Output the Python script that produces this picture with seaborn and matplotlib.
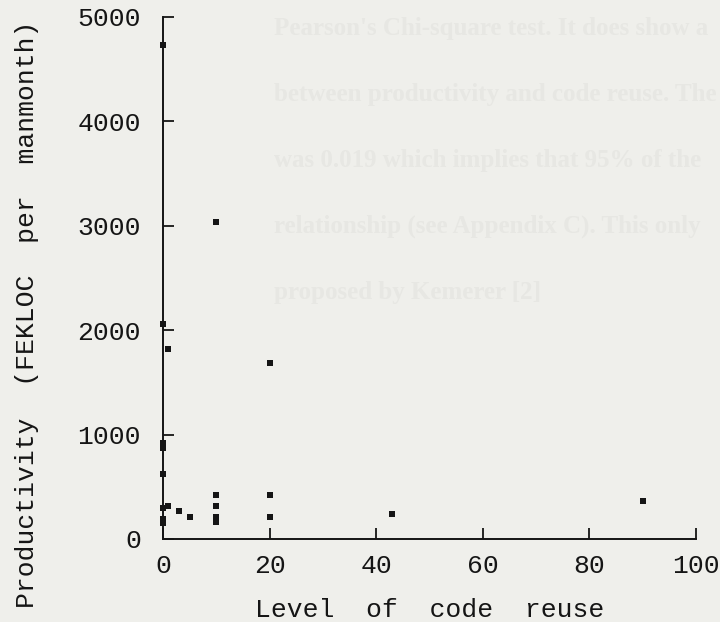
import matplotlib
matplotlib.use("Agg")
import matplotlib.pyplot as plt
import seaborn as sns
import pandas as pd

# Level of code reuse (%) and productivity (FEKLOC per manmonth) per project
reuse = [0, 10, 0, 1, 20, 0, 0, 0, 0, 1, 3, 5, 0, 0, 10, 10, 10, 10, 20, 20, 43, 90]
productivity = [4730, 3040, 2060, 1820, 1690, 920, 870, 625, 300, 320, 270, 215,
                190, 150, 425, 320, 215, 165, 425, 215, 240, 365]

x_ticks = [0, 20, 40, 60, 80, 100]
y_ticks = [0, 1000, 2000, 3000, 4000, 5000]
x_label = "Level  of  code  reuse"
y_label = "Productivity  (FEKLOC  per  manmonth)"

# Text of the facing page, showing faintly through the paper
page_lines = [
    "Pearson's Chi-square test. It does show a",
    "between productivity and code reuse. The",
    "was 0.019 which implies that 95% of the",
    "relationship (see Appendix C). This only",
    "proposed by Kemerer [2]",
]

df = pd.DataFrame({"reuse": reuse, "productivity": productivity})

sns.set_style("ticks")
bg = "#efefeb"
ink = "#151515"
plt.rcParams["font.family"] = ["Liberation Mono", "DejaVu Sans Mono"]

fig = plt.figure(figsize=(7.2, 6.22), dpi=100, facecolor=bg)

for i, line in enumerate(page_lines):
    fig.text(0.38, 1 - (28 + 66 * i) / 622, line,
             family="Liberation Serif", fontsize=18, fontweight="bold",
             color="#e7e7e3", va="center", ha="left", zorder=0)

ax = fig.add_axes([163 / 720, 83 / 622, 533 / 720, 522 / 622])
ax.set_facecolor("none")

sns.scatterplot(data=df, x="reuse", y="productivity", ax=ax, marker="s",
                s=18, color=ink, edgecolor="none", linewidth=0, clip_on=False,
                zorder=5)

ax.set_xlim(0, 100)
ax.set_ylim(0, 5000)
ax.set_xticks(x_ticks)
ax.set_yticks(y_ticks)
ax.set_xticklabels([str(v) for v in x_ticks])
ax.set_yticklabels([str(v) for v in y_ticks])

for side in ("top", "right"):
    ax.spines[side].set_visible(False)
for side in ("left", "bottom"):
    ax.spines[side].set_color(ink)
    ax.spines[side].set_linewidth(1.4)

ax.tick_params(axis="both", direction="in", length=8, width=1.3, color=ink,
               labelsize=19, labelcolor=ink)
ax.tick_params(axis="y", pad=16)
ax.tick_params(axis="x", pad=11)

xlab = ax.set_xlabel(x_label, fontsize=19, color=ink)
xlab.set_va("center")
ax.xaxis.set_label_coords(0.5, -0.136)
ylab = ax.set_ylabel(y_label, fontsize=19, color=ink)
ylab.set_va("center")
ax.yaxis.set_label_coords(-0.255, 0.431)

fig.savefig("out.png", dpi=100, facecolor=bg)
